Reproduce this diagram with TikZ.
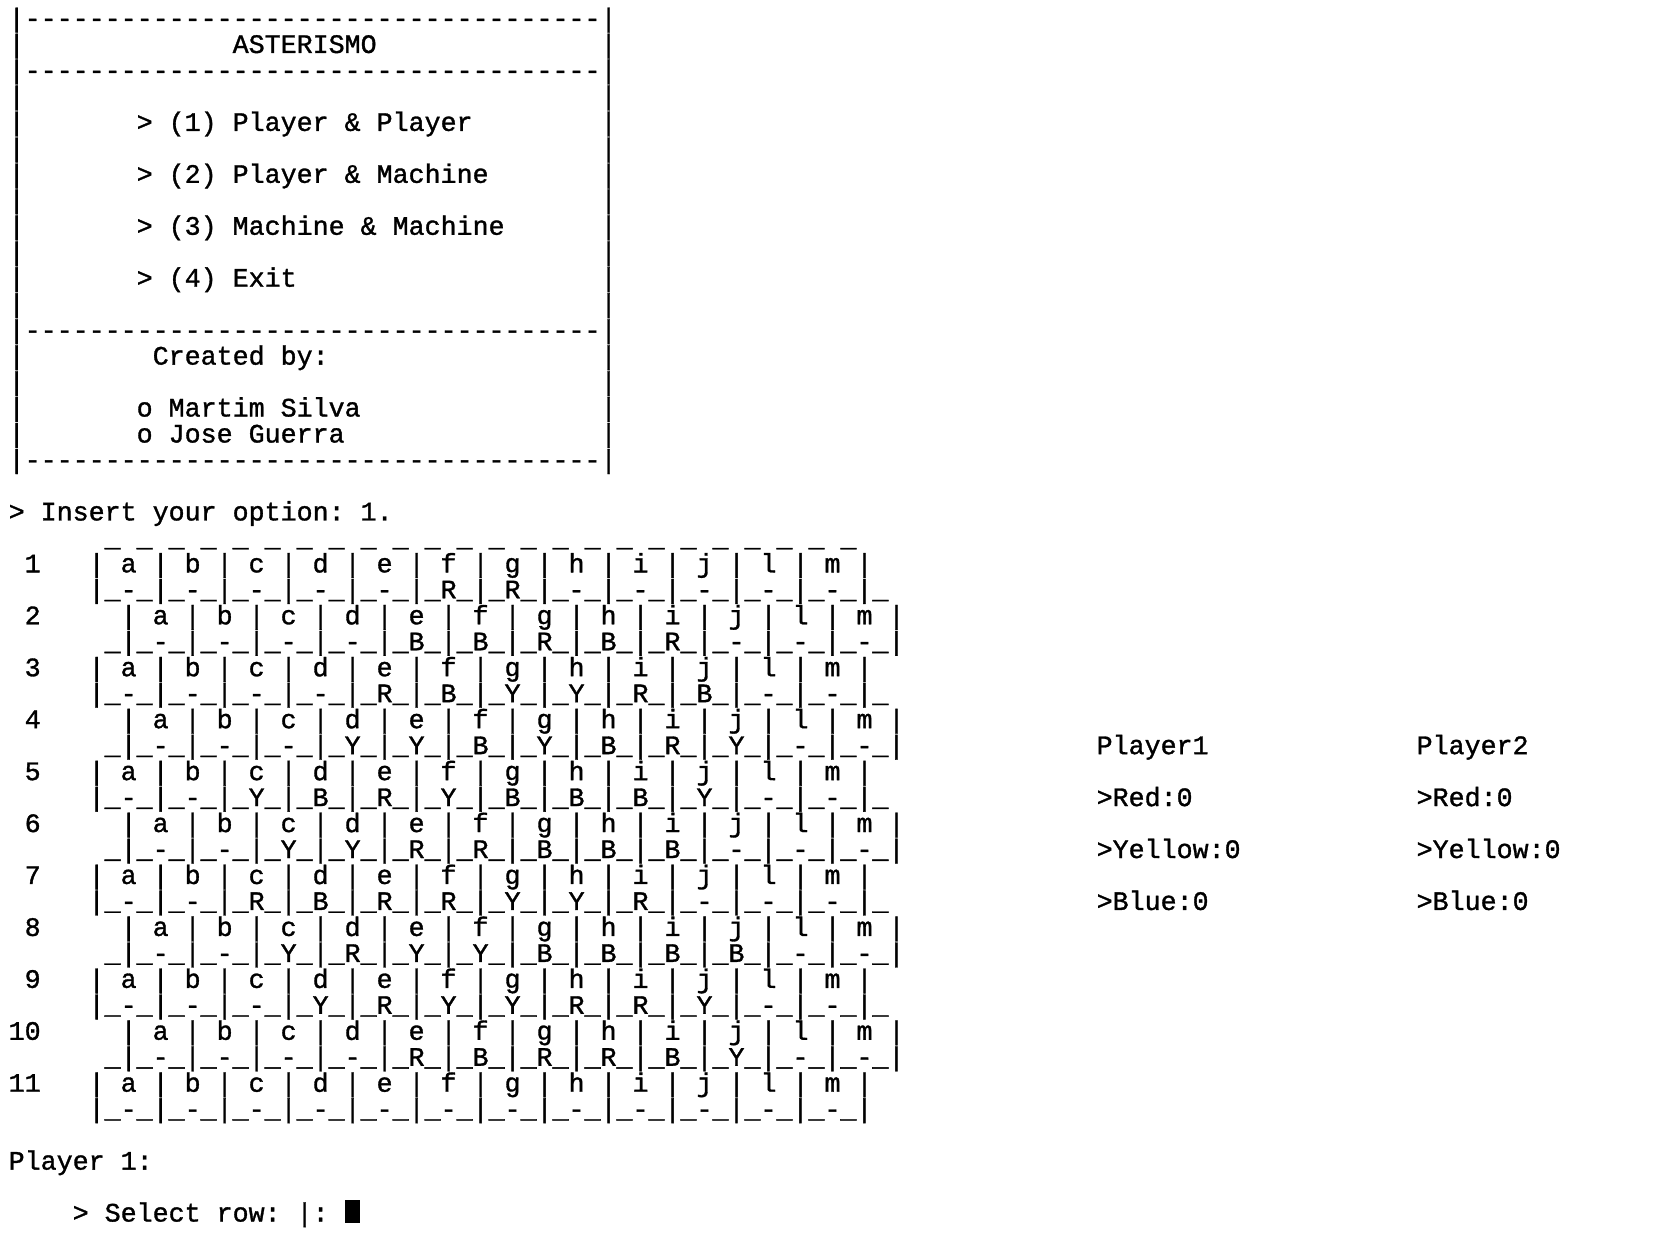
\documentclass[tikz,border=0pt]{standalone}
\usepackage{fontspec}
\setmonofont{Liberation Mono}[FakeBold=1.2]
\usepackage{tikz}

\tikzset{term/.style={anchor=base west,inner sep=0pt,outer sep=0pt,
    font=\ttfamily\fontsize{13.33pt}{16pt}\selectfont}}

\begin{document}
\catcode`\_=12
\begin{tikzpicture}[x=8pt,y=-12.985pt,xshift=4.35pt,yshift=-13.5pt]
    \useasboundingbox (-0.544,-1.04) rectangle (103.15,46.55);
    % Draw menu box
    \foreach \n in {0,...,17} {
        \node[term] (bl\n) at (0,\n) {|};
        \node[term] (br\n) at (37,\n) {|};
    }
    \foreach \n in {0,2,12,17}
        \node[term] (dash\n) at (1,\n) {------------------------------------};
    \node[term] (title) at (14,1) {ASTERISMO};
    \node[term] (opt1) at (8,4) {> (1) Player \& Player};
    \node[term] (opt2) at (8,6) {> (2) Player \& Machine};
    \node[term] (opt3) at (8,8) {> (3) Machine \& Machine};
    \node[term] (opt4) at (8,10) {> (4) Exit};
    \node[term] (credits) at (9,13) {Created by:};
    \node[term] (auth1) at (8,15) {o Martim Silva};
    \node[term] (auth2) at (8,16) {o Jose Guerra};
    \node[term] (insert) at (0,19) {> Insert your option: 1.};
    % Draw board
    \node[term] (btop) at (6,20) {_ _ _ _ _ _ _ _ _ _ _ _ _ _ _ _ _ _ _ _ _ _ _ _};
    \node[term] (lab1) at (1,21) {1};
    \node[term] (row1t) at (5,21) {| a | b | c | d | e | f | g | h | i | j | l | m |};
    \node[term] (row1b) at (5,22) {|_-_|_-_|_-_|_-_|_-_|_R_|_R_|_-_|_-_|_-_|_-_|_-_|_};
    \node[term] (lab2) at (1,23) {2};
    \node[term] (row2t) at (7,23) {| a | b | c | d | e | f | g | h | i | j | l | m |};
    \node[term] (row2b) at (6,24) {_|_-_|_-_|_-_|_-_|_B_|_B_|_R_|_B_|_R_|_-_|_-_|_-_|};
    \node[term] (lab3) at (1,25) {3};
    \node[term] (row3t) at (5,25) {| a | b | c | d | e | f | g | h | i | j | l | m |};
    \node[term] (row3b) at (5,26) {|_-_|_-_|_-_|_-_|_R_|_B_|_Y_|_Y_|_R_|_B_|_-_|_-_|_};
    \node[term] (lab4) at (1,27) {4};
    \node[term] (row4t) at (7,27) {| a | b | c | d | e | f | g | h | i | j | l | m |};
    \node[term] (row4b) at (6,28) {_|_-_|_-_|_-_|_Y_|_Y_|_B_|_Y_|_B_|_R_|_Y_|_-_|_-_|};
    \node[term] (lab5) at (1,29) {5};
    \node[term] (row5t) at (5,29) {| a | b | c | d | e | f | g | h | i | j | l | m |};
    \node[term] (row5b) at (5,30) {|_-_|_-_|_Y_|_B_|_R_|_Y_|_B_|_B_|_B_|_Y_|_-_|_-_|_};
    \node[term] (lab6) at (1,31) {6};
    \node[term] (row6t) at (7,31) {| a | b | c | d | e | f | g | h | i | j | l | m |};
    \node[term] (row6b) at (6,32) {_|_-_|_-_|_Y_|_Y_|_R_|_R_|_B_|_B_|_B_|_-_|_-_|_-_|};
    \node[term] (lab7) at (1,33) {7};
    \node[term] (row7t) at (5,33) {| a | b | c | d | e | f | g | h | i | j | l | m |};
    \node[term] (row7b) at (5,34) {|_-_|_-_|_R_|_B_|_R_|_R_|_Y_|_Y_|_R_|_-_|_-_|_-_|_};
    \node[term] (lab8) at (1,35) {8};
    \node[term] (row8t) at (7,35) {| a | b | c | d | e | f | g | h | i | j | l | m |};
    \node[term] (row8b) at (6,36) {_|_-_|_-_|_Y_|_R_|_Y_|_Y_|_B_|_B_|_B_|_B_|_-_|_-_|};
    \node[term] (lab9) at (1,37) {9};
    \node[term] (row9t) at (5,37) {| a | b | c | d | e | f | g | h | i | j | l | m |};
    \node[term] (row9b) at (5,38) {|_-_|_-_|_-_|_Y_|_R_|_Y_|_Y_|_R_|_R_|_Y_|_-_|_-_|_};
    \node[term] (lab10) at (0,39) {10};
    \node[term] (row10t) at (7,39) {| a | b | c | d | e | f | g | h | i | j | l | m |};
    \node[term] (row10b) at (6,40) {_|_-_|_-_|_-_|_-_|_R_|_B_|_R_|_R_|_B_|_Y_|_-_|_-_|};
    \node[term] (lab11) at (0,41) {11};
    \node[term] (row11t) at (5,41) {| a | b | c | d | e | f | g | h | i | j | l | m |};
    \node[term] (row11b) at (5,42) {|_-_|_-_|_-_|_-_|_-_|_-_|_-_|_-_|_-_|_-_|_-_|_-_|};
    % Draw scores
    \node[term] (p1) at (68,28) {Player1};
    \node[term] (p1red) at (68,30) {>Red:0};
    \node[term] (p1yel) at (68,32) {>Yellow:0};
    \node[term] (p1blu) at (68,34) {>Blue:0};
    \node[term] (p2) at (88,28) {Player2};
    \node[term] (p2red) at (88,30) {>Red:0};
    \node[term] (p2yel) at (88,32) {>Yellow:0};
    \node[term] (p2blu) at (88,34) {>Blue:0};
    % Prompt and cursor
    \node[term] (turn) at (0,44) {Player 1:};
    \node[term] (select) at (4,46) {> Select row: |:};
    \fill (21,45.17) rectangle (21.95,46.05);
\end{tikzpicture}
\end{document}
